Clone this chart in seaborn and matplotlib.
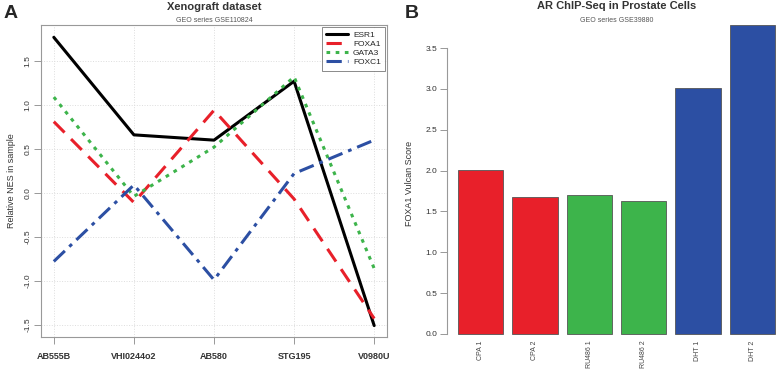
import numpy as np
import pandas as pd
import matplotlib
matplotlib.use("Agg")
import matplotlib.pyplot as plt
import seaborn as sns

# panel A data
samples = ["AB555B", "VHI0244o2", "AB580", "STG195", "V0980U"]
esr1 = [1.77, 0.66, 0.60, 1.27, -1.51]
foxa1 = [0.81, -0.11, 0.94, -0.07, -1.43]
gata3 = [1.09, -0.04, 0.52, 1.32, -0.86]
foxc1 = [-0.78, 0.09, -0.99, 0.22, 0.60]
genes = ["ESR1", "FOXA1", "GATA3", "FOXC1"]

# panel B data
conditions = ["CPA 1", "CPA 2", "RU486 1", "RU486 2", "DHT 1", "DHT 2"]
vulcan = [2.01, 1.68, 1.70, 1.63, 3.01, 3.78]

red = "#E8202A"
green = "#3DB44B"
blue = "#2C4FA3"

sns.set_style("white")
plt.rcParams["font.family"] = ["Liberation Sans", "DejaVu Sans"]

W, H = 778, 375
fig = plt.figure(figsize=(W / 100, H / 100), dpi=100)

def box(l, t, r, b):
    return [l / W, 1 - b / H, (r - l) / W, (b - t) / H]

# ---------------- panel A ----------------
df = pd.DataFrame({"sample": samples * 4,
                   "NES": esr1 + foxa1 + gata3 + foxc1,
                   "gene": [g for g in genes for _ in samples]})
axA = fig.add_axes(box(41, 25, 387, 337))
pal = {"ESR1": "black", "FOXA1": red, "GATA3": green, "FOXC1": blue}
dash = {"ESR1": "", "FOXA1": (5, 3), "GATA3": (1.2, 1.8), "FOXC1": (5, 2, 1.2, 2)}
sns.lineplot(data=df, x="sample", y="NES", hue="gene", style="gene",
             palette=pal, dashes=dash, linewidth=2.2, sort=False, ax=axA)
axA.set_xlim(-0.16, 4.16)
axA.set_ylim(-1.64, 1.91)
axA.set_yticks([-1.5, -1.0, -0.5, 0.0, 0.5, 1.0, 1.5])
axA.set_yticklabels(["-1.5", "-1.0", "-0.5", "0.0", "0.5", "1.0", "1.5"],
                    rotation=90, va="center", fontsize=6, color="#333333")
axA.set_xticks(range(len(samples)))
axA.set_xticklabels(samples, fontsize=6.5, fontweight="bold", color="#333333")
axA.tick_params(axis="both", length=5, width=0.6, color="#888888",
                left=True, bottom=True, direction="out", pad=2)
axA.tick_params(axis="x", pad=6)
axA.grid(True, color="#dddddd", linestyle=":", linewidth=0.7)
for s in axA.spines.values():
    s.set_color("#999999")
    s.set_linewidth(0.8)
axA.set_xlabel("")
axA.set_ylabel("Relative NES in sample", fontsize=6.5, color="#333333", labelpad=6)
leg = axA.legend(loc="upper right", fontsize=6, frameon=True, fancybox=False,
                 handlelength=2.6, borderpad=0.5, labelspacing=0.15,
                 handletextpad=0.6, edgecolor="#555555", borderaxespad=0.25)
leg.get_frame().set_linewidth(0.6)
fig.text(214 / W, 1 - 7 / H, "Xenograft dataset", ha="center", va="center",
         fontsize=8, fontweight="bold", color="#333333")
fig.text(214 / W, 1 - 21 / H, "GEO series GSE110824", ha="center", va="center",
         fontsize=5, color="#555555")
fig.text(4 / W, 1 - 13 / H, "A", ha="left", va="center", fontsize=14,
         fontweight="bold")

# ---------------- panel B ----------------
axB = fig.add_axes(box(447, 20, 778, 346))
sns.barplot(x=conditions, y=vulcan, hue=conditions,
            palette=[red, red, green, green, blue, blue], legend=False,
            width=0.833, edgecolor="#555555", linewidth=0.6, saturation=1,
            ax=axB)
axB.set_xlim(-0.62, 5.475)
axB.set_ylim(-0.147, 3.843)
axB.set_yticks([0.0, 0.5, 1.0, 1.5, 2.0, 2.5, 3.0, 3.5])
axB.set_yticklabels(["0.0", "0.5", "1.0", "1.5", "2.0", "2.5", "3.0", "3.5"],
                    fontsize=6, color="#333333")
axB.set_xticks(range(len(conditions)))
axB.set_xticklabels(conditions, rotation=90, fontsize=5, color="#444444")
axB.tick_params(axis="y", length=5, width=0.6, color="#888888", left=True,
                direction="out", pad=2)
axB.tick_params(axis="x", length=0, pad=-4)
for k in ["top", "right", "bottom"]:
    axB.spines[k].set_visible(False)
axB.spines["left"].set_bounds(0, 3.5)
axB.spines["left"].set_color("#999999")
axB.spines["left"].set_linewidth(0.8)
axB.set_ylabel("FOXA1 Vulcan Score", fontsize=6.5, color="#333333", labelpad=8)
fig.text(617 / W, 1 - 6 / H, "AR ChIP-Seq in Prostate Cells", ha="center",
         va="center", fontsize=8, fontweight="bold", color="#333333")
fig.text(617 / W, 1 - 21 / H, "GEO series GSE39880", ha="center", va="center",
         fontsize=5, color="#555555")
fig.text(405 / W, 1 - 13 / H, "B", ha="left", va="center", fontsize=14,
         fontweight="bold")

fig.savefig("out.png", dpi=100)
